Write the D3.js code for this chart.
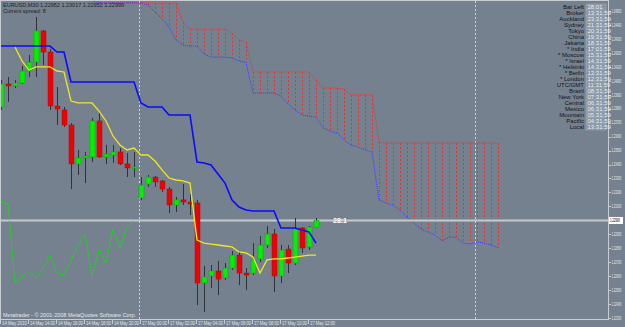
<!DOCTYPE html>
<html>
<head>
<meta charset="utf-8">
<script src="https://cdn.jsdelivr.net/npm/d3@7/dist/d3.min.js"></script>
<style>
html, body { margin: 0; padding: 0; background: #76818f; }
svg { display: block; font-family: "Liberation Sans", Arial, sans-serif; }
</style>
</head>
<body>
<svg width="625" height="327"></svg>
<script>
// EURUSD M30 bars, 14-17 May 2010
const opens = [
    1.23812, 1.23977, 1.23963, 1.23984, 1.24070, 1.24134, 1.24357, 1.24206, 1.23819, 1.23791,
    1.23683, 1.23404, 1.23447, 1.23454, 1.23712, 1.23454, 1.23468, 1.23490, 1.23404, 1.23375,
    1.23160, 1.23260, 1.23310, 1.23282, 1.23224, 1.23110, 1.23146, 1.23131, 1.23124, 1.22551,
    1.22601, 1.22637, 1.22587, 1.22658, 1.22751, 1.22622, 1.22622, 1.22723, 1.22823, 1.22902,
    1.22601, 1.22794, 1.22694, 1.22945, 1.22809, 1.22952
];
const highs = [
    1.24005, 1.24027, 1.24005, 1.24106, 1.24185, 1.24457, 1.24364, 1.24228, 1.23955, 1.23812,
    1.23697, 1.23504, 1.23490, 1.23733, 1.23776, 1.23540, 1.23540, 1.23518, 1.23482, 1.23490,
    1.23310, 1.23325, 1.23318, 1.23289, 1.23239, 1.23167, 1.23260, 1.23189, 1.23146, 1.22673,
    1.22680, 1.22708, 1.22694, 1.22780, 1.22780, 1.22658, 1.22837, 1.22888, 1.22959, 1.22938,
    1.22823, 1.22823, 1.23017, 1.22952, 1.22959, 1.23017
];
const lows = [
    1.23791, 1.23848, 1.23948, 1.23977, 1.24027, 1.24027, 1.24113, 1.23791, 1.23683, 1.23669,
    1.23224, 1.23325, 1.23267, 1.23418, 1.23447, 1.23404, 1.23411, 1.23396, 1.23310, 1.23310,
    1.23146, 1.23239, 1.23239, 1.23203, 1.23052, 1.23060, 1.23110, 1.23038, 1.22393, 1.22343,
    1.22515, 1.22465, 1.22572, 1.22644, 1.22536, 1.22501, 1.22608, 1.22701, 1.22802, 1.22486,
    1.22551, 1.22622, 1.22680, 1.22766, 1.22787, 1.22952
];
const closes = [
    1.23977, 1.23963, 1.23984, 1.24070, 1.24134, 1.24357, 1.24206, 1.23819, 1.23798, 1.23683,
    1.23404, 1.23447, 1.23461, 1.23712, 1.23454, 1.23475, 1.23490, 1.23404, 1.23375, 1.23382,
    1.23253, 1.23310, 1.23275, 1.23224, 1.23110, 1.23146, 1.23131, 1.23117, 1.22551, 1.22594,
    1.22637, 1.22579, 1.22658, 1.22751, 1.22622, 1.22608, 1.22716, 1.22823, 1.22902, 1.22601,
    1.22787, 1.22694, 1.22938, 1.22802, 1.22952, 1.22999
];

// blue line, one value per bar
const kijun = [
    1.24249, 1.24249, 1.24249, 1.24249, 1.24249, 1.24249, 1.24249, 1.24249, 1.24206, 1.24206,
    1.23991, 1.23991, 1.23991, 1.23991, 1.23991, 1.23991, 1.23991, 1.23991, 1.23991, 1.23991,
    1.23841, 1.23812, 1.23812, 1.23812, 1.23755, 1.23755, 1.23755, 1.23755, 1.23418, 1.23411,
    1.23396, 1.23332, 1.23267, 1.23146, 1.23095, 1.23074, 1.23067, 1.23067, 1.23067, 1.23067,
    1.22945, 1.22945, 1.22945, 1.22931, 1.22916, 1.22837
];

// yellow line, starts at bar 2
const tenkanStart = 2;
const tenkan = [
    1.24242, 1.24142, 1.24077, 1.24099, 1.24099, 1.24099, 1.24070, 1.24063,
    1.23855, 1.23841, 1.23841, 1.23841, 1.23783, 1.23712, 1.23604, 1.23540, 1.23504, 1.23518,
    1.23468, 1.23468, 1.23425, 1.23361, 1.23303, 1.23289, 1.23282, 1.23267, 1.22859, 1.22837,
    1.22830, 1.22823, 1.22816, 1.22809, 1.22773, 1.22766, 1.22737, 1.22622, 1.22716, 1.22723,
    1.22723, 1.22730, 1.22737, 1.22744, 1.22751, 1.22751
];

// green dotted line (lagging span), bars 0..19
const chikou = [
    1.23131, 1.23117, 1.22551, 1.22594, 1.22637, 1.22579, 1.22658, 1.22751, 1.22622, 1.22608,
    1.22716, 1.22823, 1.22902, 1.22601, 1.22787, 1.22694, 1.22938, 1.22802, 1.22952, 1.22999
];

// cloud edges, bars 12..71
const spanStart = 12;
const spanUpper = [
    1.24636, 1.24600, 1.24564, 1.24564, 1.24564, 1.24564, 1.24564, 1.24564, 1.24564, 1.24557,
    1.24557, 1.24557, 1.24557, 1.24557, 1.24421, 1.24371, 1.24371, 1.24371, 1.24371, 1.24371,
    1.24371, 1.24342, 1.24292, 1.24278, 1.24063, 1.24063, 1.24063, 1.24063, 1.24063, 1.24063,
    1.24063, 1.24063, 1.24063, 1.24005, 1.23948, 1.23948, 1.23948, 1.23941, 1.23898, 1.23898,
    1.23898, 1.23898, 1.23561, 1.23554, 1.23554, 1.23554, 1.23554, 1.23554, 1.23554, 1.23554,
    1.23554, 1.23554, 1.23554, 1.23554, 1.23554, 1.23554, 1.23554, 1.23554, 1.23554, 1.23554
];
const spanLower = [
    1.24593, 1.24572, 1.24557, 1.24557, 1.24557, 1.24557, 1.24557, 1.24557, 1.24557, 1.24543,
    1.24493, 1.24443, 1.24385, 1.24292, 1.24256, 1.24249, 1.24249, 1.24192, 1.24170, 1.24170,
    1.24170, 1.24163, 1.24142, 1.24134, 1.23912, 1.23912, 1.23912, 1.23912, 1.23891, 1.23834,
    1.23791, 1.23755, 1.23748, 1.23740, 1.23662, 1.23640, 1.23626, 1.23576, 1.23540, 1.23525,
    1.23504, 1.23490, 1.23146, 1.23124, 1.23110, 1.23074, 1.23024, 1.22981, 1.22938, 1.22916,
    1.22895, 1.22852, 1.22880, 1.22880, 1.22837, 1.22830, 1.22845, 1.22837, 1.22823, 1.22802
];

const priceTicks = [
    1.2450, 1.2440, 1.2430, 1.2420, 1.2410, 1.2400, 1.2390, 1.2380, 1.2370, 1.2360, 1.2350, 1.2340,
    1.2330, 1.2320, 1.2310, 1.2300, 1.2290, 1.2280, 1.2270, 1.2260, 1.2250, 1.2240, 1.2230
];
const timeLabels = [
    "14 May 2010", "14 May 14:00", "14 May 16:00", "14 May 18:00", "14 May 20:00", "17 May 00:00",
    "17 May 02:00", "17 May 04:00", "17 May 06:00", "17 May 08:00", "17 May 10:00", "17 May 12:00"
];
const timeLabelBars = [0, 4, 8, 12, 16, 20, 24, 28, 32, 36, 40, 44];
const separatorBars = [20, 68];

const barTimer = "28:1";
const clockNames = [
    "Bar Left", "Broker", "Auckland", "Sydney", "Tokyo", "China", "Jakarta", "* India", "* Moscow",
    "* Israel", "* Helsinki", "* Berlin", "* London", "UTC/GMT", "Brazil", "New York", "Central",
    "Mexico", "Mountain", "Pacific", "Local"
];
const clockTimes = [
    "28:01", "13:31:59", "23:31:59", "21:31:59", "20:31:59", "19:31:59", "18:31:59", "17:01:59", "15:31:59",
    "14:31:59", "14:31:59", "13:31:59", "12:31:59", "11:31:59", "08:31:59", "07:31:59", "06:31:59",
    "06:31:59", "05:31:59", "04:31:59", "13:31:59"
];

const plotRight = 608;
const plotBottom = 319;
const lastPrice = closes[closes.length - 1];

const svg = d3.select("svg");

const x = d3.scaleLinear().domain([0, 86]).range([1, 603]);
const y = d3.scaleLinear().domain([1.2230, 1.2450]).range([318, 11]);

svg.append("defs").append("clipPath")
    .attr("id", "plot")
    .append("rect")
    .attr("x", 1).attr("y", 1)
    .attr("width", plotRight - 1).attr("height", plotBottom - 1);

const plot = svg.append("g").attr("clip-path", "url(#plot)");

// day separators
plot.selectAll(".sep")
    .data(separatorBars)
    .enter()
    .append("line")
    .attr("x1", d => x(d) - 1.5).attr("x2", d => x(d) - 1.5)
    .attr("y1", 1).attr("y2", plotBottom)
    .attr("stroke", "#d0d4d8")
    .attr("stroke-width", 1)
    .attr("stroke-dasharray", "2,2");

// cloud hatch
const spanIdx = d3.range(spanUpper.length);
plot.selectAll(".hatch")
    .data(spanIdx)
    .enter()
    .append("line")
    .attr("x1", i => Math.round(x(spanStart + i)) + 0.5).attr("x2", i => Math.round(x(spanStart + i)) + 0.5)
    .attr("y1", i => Math.round(y(spanUpper[i]))).attr("y2", i => Math.round(y(spanLower[i])))
    .attr("stroke", "#f03030")
    .attr("stroke-width", 1)
    .attr("shape-rendering", "crispEdges")
    .attr("stroke-dasharray", "2,2");

plot.append("path")
    .datum(spanIdx)
    .attr("fill", "none")
    .attr("stroke", "#f03030")
    .attr("stroke-width", 1)
    .attr("stroke-dasharray", "1,1")
    .attr("d", d3.line().x(i => x(spanStart + i)).y(i => y(spanUpper[i])));

plot.append("path")
    .datum(spanIdx)
    .attr("fill", "none")
    .attr("stroke", "#3a3aff")
    .attr("stroke-width", 1)
    .attr("stroke-dasharray", "1,1")
    .attr("d", d3.line().x(i => x(spanStart + i)).y(i => y(spanLower[i])));

// bid line
plot.append("line")
    .attr("x1", 0).attr("x2", plotRight)
    .attr("y1", y(lastPrice)).attr("y2", y(lastPrice))
    .attr("stroke", "#c4c9ce")
    .attr("stroke-width", 2);

// candles
const bars = d3.range(closes.length);
plot.selectAll(".wick")
    .data(bars)
    .enter()
    .append("line")
    .attr("x1", i => Math.round(x(i)) + 0.5).attr("x2", i => Math.round(x(i)) + 0.5)
    .attr("y1", i => y(highs[i])).attr("y2", i => y(lows[i]))
    .attr("stroke", "#2e3338")
    .attr("stroke-width", 1);

plot.selectAll(".body")
    .data(bars)
    .enter()
    .append("rect")
    .attr("x", i => Math.round(x(i)) - 2)
    .attr("width", 5)
    .attr("y", i => y(Math.max(opens[i], closes[i])))
    .attr("height", i => Math.max(1.5, Math.abs(y(opens[i]) - y(closes[i]))))
    .attr("fill", i => closes[i] >= opens[i] ? "#00f000" : "#f00000")
    .attr("stroke", i => closes[i] >= opens[i] ? "#10a010" : "#a01010")
    .attr("stroke-width", 0.5);

// lagging span
plot.append("path")
    .datum(chikou)
    .attr("fill", "none")
    .attr("stroke", "#00ee00")
    .attr("stroke-width", 1)
    .attr("stroke-dasharray", "2,1")
    .attr("d", d3.line().x((d, i) => x(i)).y(d => y(d)));

// blue line
plot.append("path")
    .datum(kijun)
    .attr("fill", "none")
    .attr("stroke", "#0a0aff")
    .attr("stroke-width", 1.6)
    .attr("d", d3.line().x((d, i) => x(i)).y(d => y(d)));

// yellow line
plot.append("path")
    .datum(tenkan)
    .attr("fill", "none")
    .attr("stroke", "#f2e61c")
    .attr("stroke-width", 1.3)
    .attr("d", d3.line().x((d, i) => x(tenkanStart + i)).y(d => y(d)));

// frame
svg.append("rect")
    .attr("x", 0.5).attr("y", 0.5)
    .attr("width", plotRight).attr("height", plotBottom)
    .attr("fill", "none")
    .attr("stroke", "#c8cdd3")
    .attr("stroke-width", 1);

// price axis
const priceAxis = svg.append("g").style("font-size", "5px").attr("fill", "#e4e8ec");
priceAxis.selectAll("line")
    .data(priceTicks)
    .enter()
    .append("line")
    .attr("x1", plotRight).attr("x2", plotRight + 3)
    .attr("y1", d => Math.round(y(d)) + 0.5).attr("y2", d => Math.round(y(d)) + 0.5)
    .attr("stroke", "#c8cdd3");
priceAxis.selectAll("text")
    .data(priceTicks.filter(d => Math.abs(y(d) - y(lastPrice)) > 4))
    .enter()
    .append("text")
    .attr("transform", d => `translate(${plotRight + 3.5},${y(d) + 1.8}) scale(0.55,1)`)
    .text(d => d.toFixed(5));

svg.append("rect")
    .attr("x", plotRight + 1).attr("y", y(lastPrice) - 3.5)
    .attr("width", 14).attr("height", 7)
    .attr("fill", "#ffffff");
svg.append("text")
    .attr("transform", `translate(${plotRight + 2},${y(lastPrice) + 1.8}) scale(0.55,1)`)
    .style("font-size", "5px")
    .attr("fill", "#000")
    .text(lastPrice.toFixed(5));

// time axis
const timeAxis = svg.append("g").style("font-size", "5px").attr("fill", "#e4e8ec");
timeAxis.selectAll("line")
    .data(timeLabelBars)
    .enter()
    .append("line")
    .attr("x1", d => Math.round(x(d)) - 0.5).attr("x2", d => Math.round(x(d)) - 0.5)
    .attr("y1", plotBottom).attr("y2", plotBottom + 5)
    .attr("stroke", "#c8cdd3");
timeAxis.selectAll("text")
    .data(timeLabels)
    .enter()
    .append("text")
    .attr("x", (d, i) => x(timeLabelBars[i]) + 1)
    .attr("y", 325)
    .attr("textLength", 25)
    .attr("lengthAdjust", "spacingAndGlyphs")
    .text(d => d);

// chart texts
svg.append("text")
    .attr("x", 3).attr("y", 7)
    .style("font-size", "5.5px")
    .attr("fill", "#1c1f24")
    .text("EURUSD,M30  " + [opens, highs, lows, closes].map(a => a[a.length - 1].toFixed(5)).join(" "));
svg.append("text")
    .attr("x", 3).attr("y", 13)
    .style("font-size", "5.5px")
    .attr("fill", "#1c1f24")
    .text("Current spread: 8");
svg.append("text")
    .attr("x", 3).attr("y", 317)
    .style("font-size", "5.5px")
    .attr("fill", "#e4e8ec")
    .text("Metatrader - \u00a9 2001-2008 MetaQuotes Software Corp.");

svg.append("text")
    .attr("x", x(46) + 10).attr("y", y(lastPrice) + 2.5)
    .style("font-size", "7px")
    .style("font-weight", "bold")
    .attr("fill", "#ffffff")
    .text(barTimer);

// world clock panel
const clock = svg.append("g").style("font-size", "6px");
clock.selectAll(".name")
    .data(clockNames)
    .enter()
    .append("text")
    .attr("x", 584)
    .attr("y", (d, i) => 9 + i * 6)
    .attr("text-anchor", "end")
    .attr("fill", "#111418")
    .text(d => d);
clock.selectAll(".box")
    .data(clockTimes)
    .enter()
    .append("rect")
    .attr("x", 586)
    .attr("y", (d, i) => 4 + i * 6)
    .attr("width", 20).attr("height", 6)
    .attr("fill", "#8793a2")
    .attr("stroke", "#a9b3bf")
    .attr("stroke-width", 0.5);
clock.selectAll(".time")
    .data(clockTimes)
    .enter()
    .append("text")
    .attr("x", 587.5)
    .attr("y", (d, i) => 9 + i * 6)
    .attr("fill", "#eef2f6")
    .text(d => d);
</script>
</body>
</html>
